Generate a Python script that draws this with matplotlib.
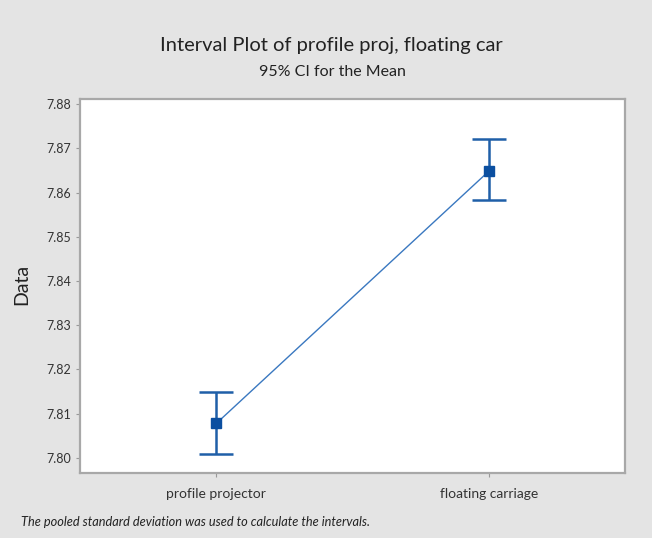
import matplotlib
matplotlib.use("Agg")
import matplotlib.pyplot as plt
import numpy as np

categories = ["profile projector", "floating carriage"]
means = [7.8078, 7.8648]
ci_lower = [7.8010, 7.8582]
ci_upper = [7.8150, 7.8722]
yticks = [7.80, 7.81, 7.82, 7.83, 7.84, 7.85, 7.86, 7.87, 7.88]

plt.rcParams["font.family"] = ["Lato", "DejaVu Sans"]

fig = plt.figure(figsize=(6.52, 5.38), dpi=100)
fig.patch.set_facecolor("#e4e4e4")
ax = fig.add_axes([80/652, 1-473/538, 545/652, 374/538])
ax.set_facecolor("white")

x = np.arange(len(categories))
means_a = np.array(means)
yerr = [means_a - np.array(ci_lower), np.array(ci_upper) - means_a]
color = "#1f5fa8"
ax.errorbar(x, means, yerr=yerr, fmt="none", ecolor=color, elinewidth=1.8,
            capsize=12.5, capthick=1.8, zorder=2)
ax.plot(x, means, color="#3a78c0", lw=1.0, zorder=3)
ax.plot(x, means, ls="none", marker="s", ms=7, color="#0b4fa0", zorder=4)

ax.set_xlim(-0.5, 1.5)
ax.set_ylim(7.80 - 15/4425, 7.88 + 5/4425)
ax.set_xticks(x)
ax.set_xticklabels(categories)
ax.set_yticks(yticks)
ax.set_yticklabels([f"{v:.2f}" for v in yticks])

for s in ax.spines.values():
    s.set_color("#a8a8a8")
    s.set_linewidth(1.6)
ax.tick_params(axis="both", colors="#999999", length=3, width=0.8,
               labelcolor="#333333", labelsize=9)
ax.tick_params(axis="x", pad=8, labelsize=10)

ax.set_ylabel("Data", fontsize=14, color="#222222")
ax.yaxis.set_label_coords(-0.092, 0.503)

fig.text(331/652, 1-45/538, "Interval Plot of profile proj, floating car",
         ha="center", va="center", fontsize=14.5, color="#222222")
fig.text(332/652, 1-72/538, "95% CI for the Mean", ha="center", va="center",
         fontsize=11.5, color="#222222")
fig.text(21/652, 1-522/538, "The pooled standard deviation was used to calculate the intervals.",
         ha="left", va="center", fontsize=9.2, style="italic", color="#222222")

fig.savefig("out.png", dpi=100, facecolor=fig.get_facecolor())
